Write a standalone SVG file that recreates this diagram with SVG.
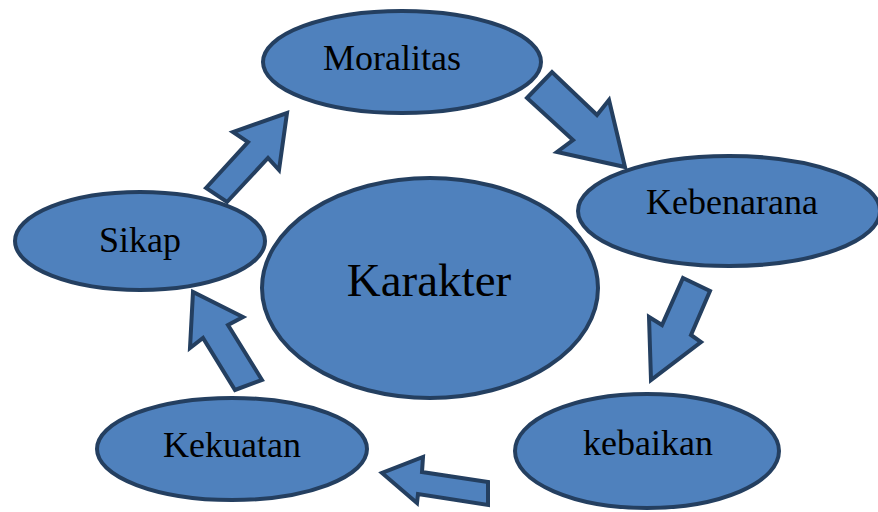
<svg xmlns="http://www.w3.org/2000/svg" width="878" height="512" viewBox="0 0 878 512">
<style>
.n{fill:#4F81BD;stroke:#243F60;stroke-width:4}
.a{fill:#4F81BD;stroke:#243F60;stroke-width:4;stroke-linejoin:miter}
text{font-family:'Liberation Serif','Times New Roman',serif;font-size:36px;fill:#000;text-anchor:middle}
.big{font-size:47px}
</style>
<rect width="878" height="512" fill="#fff"/>
<g id="connectors">
<polygon class="a" points="527,98 552,72 597,115 609,100 625,167 557,152 573,140"/>
<polygon class="a" points="683,278 710,291 691,335 701,342 651,380 649,317 662,325"/>
<polygon class="a" points="488,482 422,472 423,457 382,473 417,503 418,494 488,505"/>
<polygon class="a" points="262,380 228,325 243,317 193,292 190,348 203,338 235,390"/>
<polygon class="a" points="206,188 248,142 233,132 287,113 279,170 268,158 227,202"/>
</g>
<g id="moralitas"><ellipse class="n" cx="402" cy="62" rx="139" ry="51"/><text x="392" y="70">Moralitas</text></g>
<g id="kebenarana"><ellipse class="n" cx="729" cy="211" rx="151" ry="55"/><text x="732" y="214">Kebenarana</text></g>
<g id="sikap"><ellipse class="n" cx="140" cy="241" rx="125" ry="49"/><text x="140" y="252">Sikap</text></g>
<g id="karakter"><ellipse class="n" cx="430" cy="288" rx="168" ry="110"/><text class="big" x="429" y="296">Karakter</text></g>
<g id="kekuatan"><ellipse class="n" cx="232" cy="449" rx="135" ry="51"/><text x="232" y="457">Kekuatan</text></g>
<g id="kebaikan"><ellipse class="n" cx="647" cy="451" rx="132" ry="57"/><text x="648" y="455">kebaikan</text></g>
</svg>
